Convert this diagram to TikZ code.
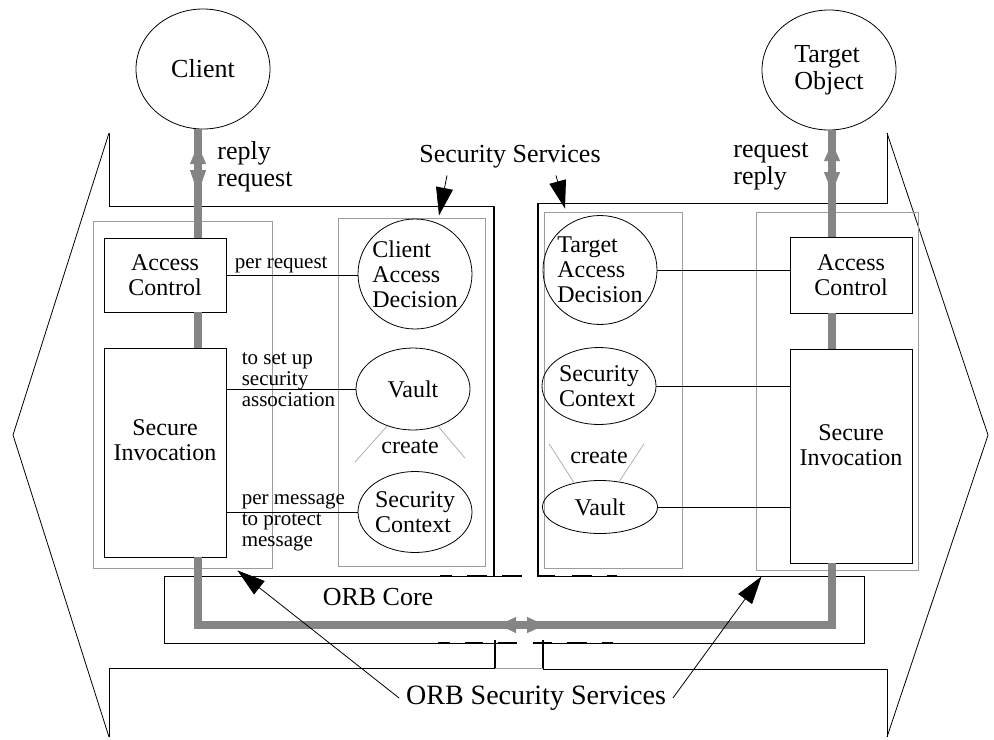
\documentclass[tikz,border=0pt]{standalone}
\usepackage{fontspec}
\setmainfont{Liberation Serif}
\usepackage{tikz}
\usetikzlibrary{arrows.meta,shapes.geometric,calc}
\definecolor{flowgray}{HTML}{858585}
\definecolor{framegray}{HTML}{9C9C9C}

\tikzset{
  txt/.style={font=\fontsize{12}{12.5}\selectfont},
  bigtxt/.style={font=\fontsize{13}{13.5}\selectfont},
  lbl/.style={font=\fontsize{10.5}{10.5}\selectfont, inner sep=1pt},
  comp/.style={draw, ellipse, txt, inner sep=-3pt, align=left},
  box/.style={draw, rectangle, txt, inner sep=0pt, minimum width=61pt, align=center},
  frame/.style={draw=framegray, rectangle, inner sep=0pt},
  flow/.style={draw=flowgray, line width=3.75pt, line join=miter},
  spoke/.style={draw=framegray!80},
  ptr/.style={-{Triangle[length=14pt,width=8.5pt]}},
  heavy/.style={line width=1.3pt},
  dashseg/.style={line width=1.1pt},
}

\begin{document}
\begin{tikzpicture}[x=0.5pt,y=-0.5pt]
  \useasboundingbox (0,0) rectangle (994,739);

  % outer outline and security service brackets
  \draw (109,133) -- (13,435) -- (109,737);
  \draw (887,133) -- (988,435) -- (887,737);
  \draw (109,133) -- (109,206) -- (494,206);
  \draw[heavy] (494,206) -- (494,576);
  \draw (887,133) -- (887,203) -- (538,203);
  \draw[heavy] (538,203) -- (538,576) -- (555,576);
  \draw (109,737) -- (109,668) -- (495,668);
  \draw[heavy] (495,640) -- (495,669);
  \draw[heavy] (543,640) -- (543,669);
  \draw (543,669) -- (887,669) -- (887,737);
  \draw[framegray] (495,668) -- (543,668);

  % ORB core
  \draw (522,576) -- (164,576) -- (164,643) -- (517,643);
  \draw (537,576) -- (864,576) -- (864,643) -- (533,643);
  \foreach \a/\b in {440/452,467/487,502/522,572/592,607/617}
    \draw[dashseg] (\a,576) -- (\b,576);
  \foreach \a/\b in {438/450,465/483,498/517,533/552,567/587,602/613}
    \draw[dashseg] (\a,643) -- (\b,643);
  \node[bigtxt] (orbcore) at (378,597) {ORB Core};

  % frames
  \node[frame, minimum width=89.5pt, minimum height=173.5pt] (lof) at (182.5,394.5) {};
  \node[frame, minimum width=73.5pt, minimum height=174pt] (cssf) at (411.5,392) {};
  \node[frame, minimum width=69pt, minimum height=178pt] (tssf) at (613,390) {};
  \node[frame, minimum width=81pt, minimum height=179pt] (rof) at (837,391) {};

  % client side
  \node[comp, bigtxt, minimum width=67pt, minimum height=60pt] (client) at (203,69) {Client};
  \node[box, minimum height=37pt] (acl) at (165,275) {Access\\Control};
  \node[box, minimum height=104.5pt,
    label={[txt, align=center, yshift=6pt]center:Secure\\Invocation}] (sil) at (165,452.5) {};
  \node[comp, minimum width=57pt, minimum height=55pt] (cad) at (415,274) {Client\\Access\\Decision};
  \node[comp, minimum width=57pt, minimum height=41pt] (vaultl) at (413,389) {Vault};
  \node[comp, minimum width=57pt, minimum height=40.5pt] (scl) at (415,512) {Security\\Context};
  \node[txt] (crl) at (410,447) {create};
  \draw[spoke] (vaultl.235) -- ++(-32,36);
  \draw[spoke] (vaultl.304) -- ++(27,32);

  % target side
  \node[comp, bigtxt, minimum width=67pt, minimum height=60pt] (target) at (829,70) {Target\\Object};
  \node[box, minimum height=38pt] (acr) at (851,275) {Access\\Control};
  \node[box, minimum height=107pt,
    label={[txt, align=center, yshift=5.5pt]center:Secure\\Invocation}] (sir) at (851,456) {};
  \node[comp, minimum width=57pt, minimum height=54.5pt] (tad) at (600,270) {Target\\Access\\Decision};
  \node[comp, minimum width=57pt, minimum height=38.5pt] (scr) at (599,386) {Security\\Context};
  \node[comp, minimum width=57.5pt, minimum height=26.5pt] (vaultr) at (600,507) {Vault};
  \node[txt] (crr) at (599,457) {create};
  \draw[spoke] (vaultr.137) -- ++(-25,-39);
  \draw[spoke] (vaultr.53) -- ++(25,-38);

  % calls into the security services
  \draw (acl.east) -- (acl.east -| cad.west)
    node[lbl, above right, pos=0, xshift=3pt] {per request};
  \draw (sil.east |- vaultl.west) -- (vaultl.west)
    node[lbl, align=left, anchor=west, pos=0, xshift=6.5pt, yshift=4.5pt] {to set up\\security\\association};
  \draw (sil.east |- scl.west) -- (scl.west)
    node[lbl, align=left, anchor=west, pos=0, xshift=6.5pt, yshift=-5pt] {per message\\to protect\\message};
  \draw (tad.east) -- (tad.east -| acr.west);
  \draw (scr.east) -- (scr.east -| sir.west);
  \draw (vaultr.east) -- (vaultr.east -| sir.west);

  % request / reply flow
  \coordinate (lflow) at (198,0);
  \coordinate (rflow) at (832,0);
  \coordinate (orbflow) at (0,625);
  \draw[flow] (client.south -| lflow) -- (acl.north -| lflow);
  \draw[flow] (acl.south -| lflow) -- (sil.north -| lflow);
  \draw[flow] (sil.south -| lflow) -- (lflow |- orbflow) -- (rflow |- orbflow) -- (sir.south -| rflow);
  \draw[flow] (sir.north -| rflow) -- (acr.south -| rflow);
  \draw[flow] (acr.north -| rflow) -- (target.south -| rflow);
  \draw[flowgray, {Triangle[length=9.5pt,width=8pt]}-{Triangle[length=12pt,width=8pt]}] (198,145) -- (198,194);
  \draw[flowgray, {Triangle[length=9pt,width=8pt]}-{Triangle[length=10pt,width=8pt]}] (832,143) -- (832,192);
  \draw[flowgray, {Triangle[length=8.5pt,width=8pt]}-{Triangle[length=9pt,width=8pt]}] (499,625) -- (545,625);
  \node[bigtxt, align=left, anchor=west, inner sep=0pt] (lmsg) at (217,167) {reply\\request};
  \node[bigtxt, align=left, anchor=west, inner sep=0pt] (rmsg) at (733,166) {request\\reply};

  % pointers
  \node[bigtxt] (secsvc) at (510,157) {Security Services};
  \draw[ptr] ([xshift=-31.5pt]secsvc.south) -- ([xshift=13.75pt,yshift=1pt]cssf.north);
  \draw[ptr] ([xshift=23pt]secsvc.south) -- ([xshift=-24pt,yshift=1.5pt]tssf.north);
  \node[font=\fontsize{14}{14}\selectfont] (orbsec) at (536,698) {ORB Security Services};
  \draw[ptr] (orbsec.west) -- ([xshift=-17.5pt,yshift=-1pt]lof.south east);
  \draw[ptr] (orbsec.east) -- ([shift={(3pt,-3pt)}]rof.south west);
\end{tikzpicture}
\end{document}
